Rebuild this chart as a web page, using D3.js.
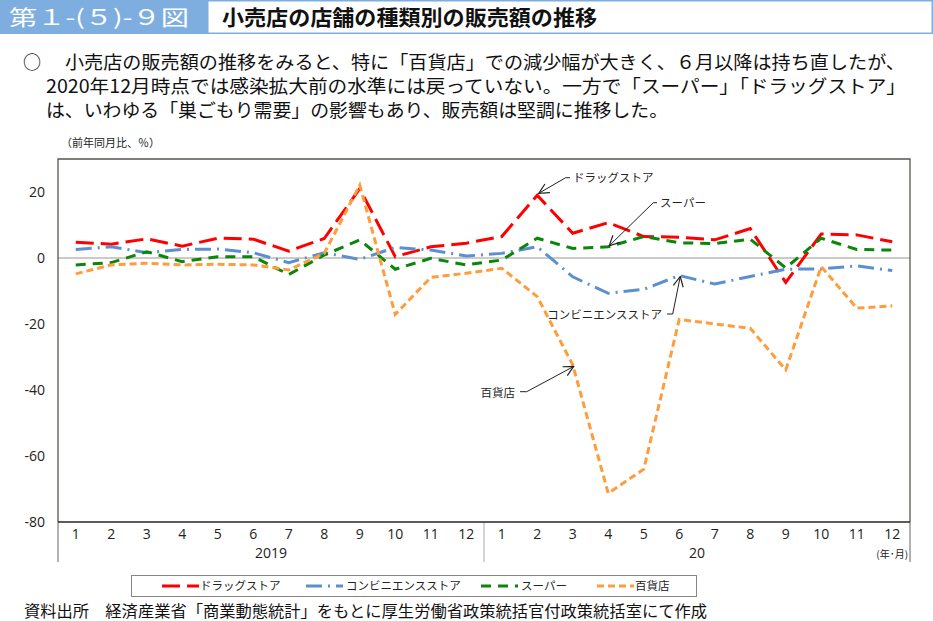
<!DOCTYPE html>
<html><head><meta charset="utf-8">
<script src="https://cdn.jsdelivr.net/npm/d3@7"></script>
<style>
html,body{margin:0;padding:0;background:#fff;}
svg{display:block;font-family:"Noto Sans CJK JP","Noto Sans",sans-serif;}
</style></head>
<body><svg id="c" width="933" height="621"></svg>
<script>
const months = ["1","2","3","4","5","6","7","8","9","10","11","12","1","2","3","4","5","6","7","8","9","10","11","12"];
const years = ["2019","20"];
const yTicks = [-80,-60,-40,-20,0,20];
const drugstore   = [4.8,4.2,5.8,3.6,6.0,5.7,2.1,5.9,21.0,0.4,3.4,4.5,6.5,19.0,7.5,10.7,6.5,6.3,5.5,8.9,-7.4,7.3,7.0,4.9];
const convenience = [2.6,3.4,1.6,2.6,2.7,1.6,-1.4,1.6,-0.4,3.2,2.4,0.6,1.4,3.4,-5.7,-10.7,-9.5,-5.3,-7.9,-5.6,-3.4,-3.3,-2.4,-3.8];
const supermarket = [-2.1,-1.4,1.9,-1.1,0.4,0.4,-5.0,0.9,5.5,-3.4,-0.1,-2.1,-0.6,6.0,2.9,3.4,6.5,4.6,4.4,5.7,-3.0,6.0,2.6,2.4];
const department  = [-4.8,-2.1,-1.6,-2.1,-1.9,-2.1,-3.6,1.4,22.1,-17.1,-5.9,-4.6,-3.1,-11.7,-32.4,-71.3,-64.0,-18.6,-20.0,-21.3,-33.9,-2.6,-15.2,-14.5];
const seriesNames = ["ドラッグストア","コンビニエンスストア","スーパー","百貨店"];

const svg = d3.select("#c");

// header
svg.append("rect").attr("x",0).attr("y",0).attr("width",207).attr("height",34).attr("fill","#7eaedf");
svg.append("rect").attr("x",207.75).attr("y",0.75).attr("width",724.5).attr("height",32.5).attr("fill","#fff").attr("stroke","#7eaedf").attr("stroke-width",1.5);
svg.append("text").attr("x",9).attr("y",25).attr("fill","#fff").attr("font-size",21)
  .attr("textLength",180).attr("lengthAdjust","spacingAndGlyphs").text("第１-(５)-９図");
svg.append("text").attr("x",222).attr("y",25).attr("fill","#111").attr("font-size",21).attr("font-weight","bold")
  .attr("textLength",375).attr("lengthAdjust","spacingAndGlyphs").text("小売店の店舗の種類別の販売額の推移");

// paragraph
const para = [
  {x:65, y:69, t:"小売店の販売額の推移をみると、特に「百貨店」での減少幅が大きく、６月以降は持ち直したが、", w:840},
  {x:46, y:93, t:"2020年12月時点では感染拡大前の水準には戻っていない。一方で「スーパー」「ドラッグストア」", w:860},
  {x:46, y:117, t:"は、いわゆる「巣ごもり需要」の影響もあり、販売額は堅調に推移した。", w:622}
];
svg.append("text").attr("x",23).attr("y",69).attr("font-size",18).attr("fill","#111").text("○");
para.forEach(p=>{
  svg.append("text").attr("x",p.x).attr("y",p.y).attr("font-size",18.5).attr("fill","#111")
    .attr("textLength",p.w).attr("lengthAdjust","spacingAndGlyphs").text(p.t);
});

// chart
const L=58, R=910, T=159, B=522;
const x = d3.scaleBand().domain(d3.range(24)).range([L,R]);
const xc = i => x(i)+x.bandwidth()/2;
const y = d3.scaleLinear().domain([-80,30]).range([B,T]);

svg.append("text").attr("x",61).attr("y",147).attr("font-size",11).attr("fill","#222").text("（前年同月比、％）");

svg.append("line").attr("x1",L).attr("x2",R).attr("y1",y(0)).attr("y2",y(0)).attr("stroke","#9a9590").attr("stroke-width",1);

const ya = svg.append("g").attr("transform",`translate(${L},0)`)
  .call(d3.axisLeft(y).tickValues(yTicks).tickSize(0).tickPadding(13).tickFormat(d=>String(d)));
ya.select(".domain").remove();
ya.selectAll("text").attr("font-size",14).attr("fill","#222").attr("font-family","'Open Sans','Noto Sans',sans-serif");

const xa = svg.append("g").attr("transform",`translate(0,${B})`)
  .call(d3.axisBottom(x).tickSize(0).tickPadding(7).tickFormat(i=>months[i]));
xa.select(".domain").remove();
xa.selectAll("text").attr("font-size",14).attr("fill","#222").attr("font-family","'Open Sans','Noto Sans',sans-serif");

years.forEach((yr,k)=>{
  const cx = (x(k*12) + x(k*12+11)+x.bandwidth())/2;
  svg.append("text").attr("x",cx).attr("y",558).attr("text-anchor","middle").attr("font-size",14).attr("fill","#222")
    .attr("font-family","'Open Sans','Noto Sans',sans-serif").text(yr);
});
svg.append("text").attr("x",xc(23)).attr("y",558).attr("text-anchor","middle").attr("font-size",10).attr("fill","#222").text("(年･月)");

[L, x(12), R].forEach((sx,k)=>{
  svg.append("line").attr("x1",sx).attr("x2",sx).attr("y1",B).attr("y2",562)
    .attr("stroke", k===1 ? "#aaa" : "#6b6660").attr("stroke-width",1);
});

svg.append("path").attr("d",`M${L},${B}V${T}H${R}V${B}`).attr("fill","none").attr("stroke","#5a544e").attr("stroke-width",1.3);
svg.append("line").attr("x1",L).attr("x2",R).attr("y1",B).attr("y2",B).attr("stroke","#2a2520").attr("stroke-width",1.5);

const styles = [
  {data:drugstore,   color:"#ff0000", dash:"18,7"},
  {data:convenience, color:"#5b8fd2", dash:"16,6,2,6"},
  {data:supermarket, color:"#0a860a", dash:"10,7"},
  {data:department,  color:"#ff9c3c", dash:"7,4"}
];
const line = d3.line().x((d,i)=>xc(i)).y(d=>y(d));
styles.forEach(s=>{
  svg.append("path").datum(s.data).attr("d",line).attr("fill","none")
    .attr("stroke",s.color).attr("stroke-width",3).attr("stroke-dasharray",s.dash);
});

svg.append("defs").append("marker").attr("id","arr").attr("viewBox","0 0 12 12").attr("refX",11).attr("refY",6)
  .attr("markerWidth",12).attr("markerHeight",12).attr("markerUnits","userSpaceOnUse").attr("orient","auto")
  .append("path").attr("d","M1,1L11,6L1,11").attr("fill","none").attr("stroke","#222").attr("stroke-width",1.2);

const ann = [
  {name:seriesNames[0], i:13, v:drugstore[13], dx:1.5, dy:-2, bend:[565.7,177.7], tx:571, ty:182, anchor:"start"},
  {name:seriesNames[2], i:15, v:supermarket[15], dx:1, dy:-1, bend:[653.3,202.7], tx:658, ty:207, anchor:"start"},
  {name:seriesNames[1], i:17, v:convenience[17], dx:1, dy:1, bend:[672.7,314], tx:665, ty:318.5, anchor:"end"},
  {name:seriesNames[3], i:14, v:department[14], dx:1, dy:1.5, bend:[526.7,391.7], tx:518, ty:397, anchor:"end"}
];
ann.forEach(a=>{
  const ex = xc(a.i)+a.dx, ey = y(a.v)+a.dy;
  const hx = a.anchor==="start" ? a.tx-1 : a.tx+2;
  svg.append("path").attr("d",`M${hx},${a.bend[1]}H${a.bend[0]}L${ex},${ey}`)
    .attr("fill","none").attr("stroke","#222").attr("stroke-width",1).attr("marker-end","url(#arr)");
  svg.append("text").attr("x",a.anchor==="start"?a.tx+2:a.tx-3).attr("y",a.ty).attr("text-anchor",a.anchor)
    .attr("font-size",11.5).attr("fill","#222").text(a.name);
});

svg.append("rect").attr("x",131.5).attr("y",575.5).attr("width",565).attr("height",21).attr("fill","#fff").attr("stroke","#8a8580").attr("stroke-width",1);
const legX = [162, 306, 481, 597];
styles.forEach((s,k)=>{
  svg.append("line").attr("x1",legX[k]).attr("x2",legX[k]+37).attr("y1",586).attr("y2",586)
    .attr("stroke",s.color).attr("stroke-width",3).attr("stroke-dasharray",s.dash);
  svg.append("text").attr("x",legX[k] + (k===2||k===1 ? 40 : 38)).attr("y",590).attr("font-size",11.5).attr("fill","#222").text(seriesNames[k]);
});

svg.append("text").attr("x",24).attr("y",617).attr("font-size",15.5).attr("fill","#111")
  .attr("textLength",683).attr("lengthAdjust","spacingAndGlyphs")
  .text("資料出所　経済産業省「商業動態統計」をもとに厚生労働省政策統括官付政策統括室にて作成");
</script></body></html>
